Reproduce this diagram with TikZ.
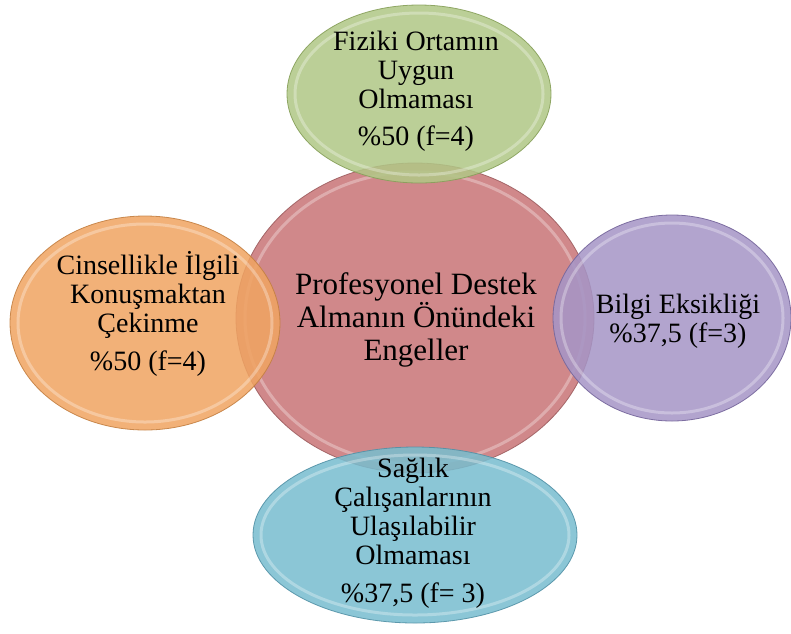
\documentclass[tikz,border=0pt]{standalone}
\usepackage{fontspec}
\setmainfont{Liberation Serif}
\usetikzlibrary{shapes.geometric}
\definecolor{cred}{HTML}{CE8284}
\definecolor{credE}{HTML}{9E5E60}
\definecolor{cgreen}{HTML}{B0C786}
\definecolor{cgreenE}{HTML}{87A05A}
\definecolor{corange}{HTML}{F0A462}
\definecolor{corangeE}{HTML}{C48042}
\definecolor{cpurple}{HTML}{A595C6}
\definecolor{cpurpleE}{HTML}{75659B}
\definecolor{cblue}{HTML}{78BDCF}
\definecolor{cblueE}{HTML}{5291A6}
\tikzset{
  blob/.style={ellipse, draw=#1E, line width=0.8pt, fill=#1, fill opacity=0.86, draw opacity=0.9, inner sep=0pt},
  rim/.style={ellipse, draw=white, draw opacity=0.3, line width=3pt, inner sep=0pt},
  lbl/.style={align=center, anchor=base, inner sep=0pt, text=black,
    font=\fontsize{28}{29}\selectfont},
  bigl/.style={lbl, font=\fontsize{31}{33}\selectfont}
}
\begin{document}
\begin{tikzpicture}[x=1pt,y=-1pt]
\useasboundingbox (0,0) rectangle (791,633);
% central
\node[blob=cred, fill opacity=0.95, minimum width=358, minimum height=310] (c) at (415,318) {};
\node[rim, minimum width=340, minimum height=292] (crim) at (415,318) {};
% satellites
\node[blob=cgreen, minimum width=264, minimum height=178] (g) at (419,94) {};
\node[rim, minimum width=248, minimum height=162] (grim) at (419,94) {};
\node[blob=corange, minimum width=270, minimum height=214] (o) at (145,323) {};
\node[rim, minimum width=254, minimum height=198] (orim) at (145,323) {};
\node[blob=cpurple, minimum width=238, minimum height=206] (p) at (672,318) {};
\node[rim, minimum width=222, minimum height=190] (prim) at (672,318) {};
\node[blob=cblue, minimum width=324, minimum height=176] (b) at (415,535) {};
\node[rim, minimum width=308, minimum height=160] (brim) at (415,535) {};
% labels (anchor=base is the last line's baseline)
\node[bigl] (ct) at (416,360) {Profesyonel Destek\\Almanın Önündeki\\Engeller};
\node[lbl] (gt) at (416,145) {Fiziki Ortamın\\Uygun\\Olmaması\\[8pt]\%50 (f=4)};
\node[lbl] (ot) at (148,370) {Cinsellikle İlgili\\Konuşmaktan\\Çekinme\\[9pt]\%50 (f=4)};
\node[lbl] (pt) at (678,342) {Bilgi Eksikliği\\\%37,5 (f=3)};
\node[lbl] (bt) at (413,602) {Sağlık\\Çalışanlarının\\Ulaşılabilir\\Olmaması\\[9pt]\%37,5 (f= 3)};
\end{tikzpicture}
\end{document}
